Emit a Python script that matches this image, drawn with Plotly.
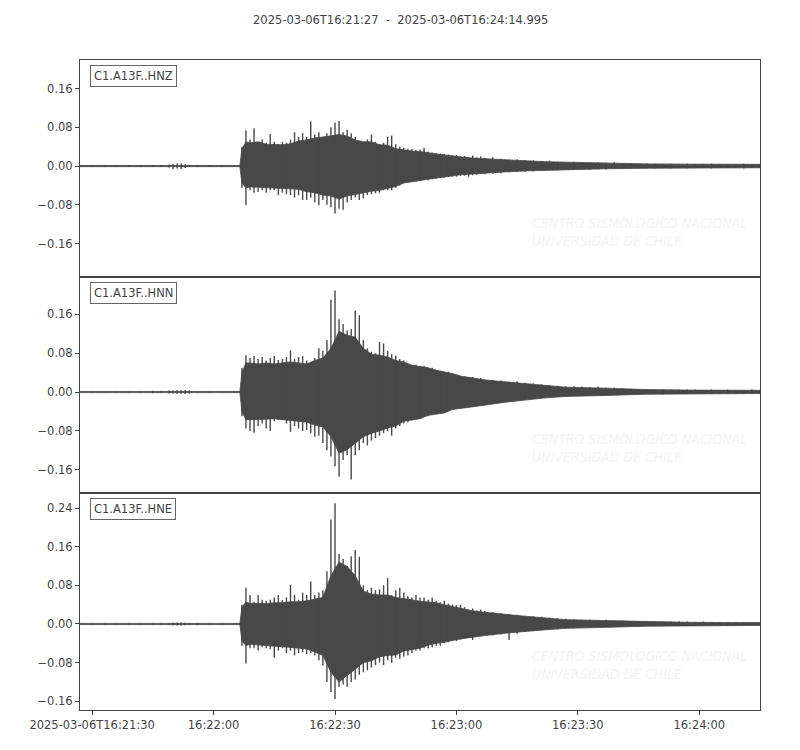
import pandas as pd
import plotly.graph_objects as go
from plotly.subplots import make_subplots

# ---------------- data ----------------
start_time = "2025-03-06 16:21:27"
end_time = "2025-03-06 16:24:14.995"
title_text = "2025-03-06T16:21:27  -  2025-03-06T16:24:14.995"

channels = ["C1.A13F..HNZ", "C1.A13F..HNN", "C1.A13F..HNE"]

# seconds after start time at which the peak (spike) amplitudes were read
t_sec = [0, 3, 6, 9, 12, 15, 18, 20, 22, 23, 24, 25, 26, 27, 29, 32, 35, 38, 39.5,
         40, 41, 42, 43, 44, 45, 46, 47, 48, 49, 50, 51, 52, 53, 54, 55, 56, 57, 58, 59,
         60, 61, 62, 63, 64, 65, 66, 67, 68, 69, 70, 71, 72, 73, 74, 75, 76, 77, 78, 79,
         80, 81, 82, 83, 84, 85, 86, 87, 88, 89, 90, 91, 92, 93, 94, 95, 96, 97, 98, 99, 100,
         102, 104, 106, 108, 110, 112, 114, 116, 118, 120, 122, 124, 126, 128, 130, 132, 134,
         136, 138, 140, 142, 144, 146, 148, 150, 152, 154, 156, 158, 160, 162, 164, 166, 168]

hnz_upper = [0.0015, 0.0018, 0.0015, 0.0018, 0.0015, 0.0018, 0.002, 0.0018, 0.003, 0.005, 0.006, 0.006, 0.004, 0.002, 0.002, 0.0018, 0.0015, 0.0018, 0.002,
             0.04, 0.074, 0.055, 0.078, 0.05, 0.055, 0.048, 0.066, 0.05, 0.045, 0.05, 0.048, 0.055, 0.07, 0.06, 0.068, 0.06, 0.092, 0.065, 0.07,
             0.06, 0.068, 0.08, 0.09, 0.093, 0.07, 0.075, 0.068, 0.06, 0.052, 0.05, 0.055, 0.065, 0.05, 0.045, 0.048, 0.06, 0.063, 0.045, 0.04,
             0.038, 0.036, 0.035, 0.033, 0.034, 0.038, 0.03, 0.028, 0.027, 0.026, 0.025, 0.024, 0.022, 0.023, 0.02, 0.021, 0.019, 0.022, 0.018, 0.02, 0.017,
             0.018, 0.015, 0.013, 0.014, 0.012, 0.012, 0.01, 0.011, 0.009, 0.008, 0.009, 0.008, 0.007, 0.008, 0.007, 0.008, 0.006,
             0.006, 0.005, 0.006, 0.005, 0.005, 0.005, 0.004, 0.005, 0.004, 0.004, 0.005, 0.004, 0.004, 0.004, 0.005, 0.004, 0.004]
hnz_lower = [-0.0015, -0.0018, -0.0015, -0.0018, -0.0015, -0.0018, -0.002, -0.0018, -0.003, -0.006, -0.005, -0.006, -0.004, -0.002, -0.002, -0.0018, -0.0015, -0.0018, -0.002,
             -0.045, -0.081, -0.05, -0.055, -0.053, -0.05, -0.055, -0.05, -0.05, -0.06, -0.055, -0.058, -0.06, -0.065, -0.06, -0.07, -0.07, -0.065, -0.075, -0.081,
             -0.07, -0.08, -0.085, -0.098, -0.088, -0.09, -0.075, -0.07, -0.065, -0.07, -0.067, -0.06, -0.058, -0.056, -0.055, -0.05, -0.05, -0.05, -0.045, -0.04,
             -0.035, -0.033, -0.032, -0.032, -0.03, -0.029, -0.03, -0.027, -0.026, -0.025, -0.024, -0.023, -0.022, -0.022, -0.02, -0.02, -0.022, -0.019, -0.018, -0.016, -0.017,
             -0.016, -0.015, -0.013, -0.012, -0.012, -0.011, -0.01, -0.009, -0.009, -0.008, -0.008, -0.007, -0.008, -0.007, -0.007, -0.006, -0.006,
             -0.005, -0.005, -0.005, -0.005, -0.004, -0.005, -0.004, -0.005, -0.004, -0.004, -0.005, -0.004, -0.004, -0.004, -0.005, -0.004, -0.004]

hnn_upper = [0.0012, 0.0012, 0.0012, 0.0012, 0.0012, 0.0018, 0.0025, 0.002, 0.003, 0.003, 0.004, 0.0035, 0.004, 0.003, 0.0015, 0.0012, 0.0012, 0.0012, 0.0015,
             0.05, 0.076, 0.07, 0.074, 0.068, 0.072, 0.065, 0.07, 0.074, 0.066, 0.068, 0.072, 0.086, 0.068, 0.072, 0.074, 0.065, 0.058, 0.07, 0.09,
             0.085, 0.107, 0.19, 0.209, 0.15, 0.14, 0.127, 0.13, 0.168, 0.158, 0.107, 0.09, 0.083, 0.08, 0.103, 0.1, 0.085, 0.078, 0.075, 0.068,
             0.065, 0.058, 0.055, 0.056, 0.052, 0.054, 0.05, 0.05, 0.045, 0.04, 0.038, 0.042, 0.038, 0.036, 0.033, 0.031, 0.03, 0.031, 0.028, 0.029, 0.026,
             0.025, 0.024, 0.021, 0.022, 0.019, 0.018, 0.016, 0.014, 0.013, 0.012, 0.012, 0.011, 0.01, 0.011, 0.009, 0.009, 0.008,
             0.007, 0.006, 0.006, 0.005, 0.006, 0.005, 0.005, 0.005, 0.005, 0.004, 0.005, 0.004, 0.005, 0.004, 0.004, 0.005, 0.004]
hnn_lower = [-0.0012, -0.0012, -0.0012, -0.0012, -0.0012, -0.0018, -0.0025, -0.002, -0.003, -0.003, -0.004, -0.0035, -0.004, -0.003, -0.0015, -0.0012, -0.0012, -0.0012, -0.0015,
             -0.05, -0.075, -0.08, -0.084, -0.07, -0.065, -0.075, -0.08, -0.06, -0.058, -0.057, -0.065, -0.082, -0.07, -0.075, -0.08, -0.078, -0.085, -0.092, -0.09,
             -0.105, -0.12, -0.133, -0.153, -0.174, -0.14, -0.13, -0.18, -0.13, -0.12, -0.105, -0.11, -0.1, -0.095, -0.09, -0.085, -0.08, -0.09, -0.075, -0.07,
             -0.065, -0.062, -0.058, -0.055, -0.05, -0.05, -0.05, -0.047, -0.045, -0.042, -0.04, -0.038, -0.035, -0.033, -0.03, -0.03, -0.029, -0.03, -0.027, -0.026, -0.025,
             -0.022, -0.02, -0.018, -0.016, -0.014, -0.013, -0.012, -0.01, -0.009, -0.009, -0.008, -0.008, -0.007, -0.007, -0.006, -0.006, -0.005,
             -0.005, -0.005, -0.004, -0.004, -0.005, -0.004, -0.004, -0.004, -0.004, -0.004, -0.004, -0.004, -0.004, -0.004, -0.004, -0.004, -0.004]

hne_upper = [0.0015, 0.0015, 0.0015, 0.0015, 0.0015, 0.0015, 0.0015, 0.0015, 0.002, 0.003, 0.003, 0.003, 0.0025, 0.002, 0.002, 0.0015, 0.0015, 0.0015, 0.002,
             0.04, 0.075, 0.06, 0.046, 0.06, 0.05, 0.048, 0.05, 0.055, 0.06, 0.05, 0.055, 0.081, 0.06, 0.05, 0.065, 0.06, 0.088, 0.06, 0.065,
             0.07, 0.109, 0.216, 0.25, 0.145, 0.135, 0.12, 0.14, 0.153, 0.139, 0.08, 0.07, 0.075, 0.07, 0.072, 0.08, 0.095, 0.06, 0.07, 0.075,
             0.065, 0.058, 0.055, 0.06, 0.055, 0.055, 0.05, 0.055, 0.048, 0.045, 0.048, 0.042, 0.04, 0.039, 0.04, 0.035, 0.03, 0.032, 0.028, 0.03, 0.027,
             0.025, 0.022, 0.02, 0.019, 0.017, 0.016, 0.015, 0.013, 0.012, 0.011, 0.01, 0.009, 0.009, 0.008, 0.009, 0.007, 0.007,
             0.006, 0.006, 0.006, 0.005, 0.005, 0.005, 0.005, 0.005, 0.004, 0.005, 0.004, 0.004, 0.004, 0.004, 0.004, 0.003, 0.003]
hne_lower = [-0.0015, -0.0015, -0.0015, -0.0015, -0.0015, -0.0015, -0.0015, -0.0015, -0.002, -0.003, -0.003, -0.003, -0.0025, -0.002, -0.002, -0.0015, -0.0015, -0.0015, -0.002,
             -0.045, -0.082, -0.05, -0.05, -0.055, -0.048, -0.05, -0.052, -0.07, -0.055, -0.05, -0.06, -0.055, -0.065, -0.06, -0.058, -0.062, -0.06, -0.065, -0.075,
             -0.086, -0.12, -0.141, -0.155, -0.13, -0.125, -0.13, -0.12, -0.115, -0.105, -0.1, -0.096, -0.09, -0.085, -0.08, -0.085, -0.075, -0.08, -0.07, -0.072,
             -0.068, -0.065, -0.06, -0.055, -0.055, -0.05, -0.05, -0.048, -0.045, -0.045, -0.04, -0.038, -0.035, -0.035, -0.032, -0.03, -0.028, -0.033, -0.025, -0.024, -0.022,
             -0.024, -0.022, -0.033, -0.02, -0.016, -0.014, -0.013, -0.012, -0.011, -0.01, -0.009, -0.008, -0.008, -0.007, -0.007, -0.006, -0.006,
             -0.005, -0.005, -0.005, -0.004, -0.004, -0.004, -0.004, -0.004, -0.004, -0.004, -0.004, -0.003, -0.004, -0.003, -0.003, -0.003, -0.003]

# seconds after start time at which the dense (solid) body level of each trace was read
t_body = [0, 39.5, 40, 41, 42, 44, 46, 48, 50, 52, 54, 56, 58, 60, 62, 64, 66, 68, 70,
          72, 74, 76, 78, 80, 82, 84, 86, 88, 90, 92, 94, 96, 98, 100,
          105, 110, 115, 120, 130, 140, 150, 160, 168]

hnz_body_upper = [0.0012, 0.0012, 0.035, 0.05, 0.048, 0.05, 0.045, 0.045, 0.044, 0.046, 0.052, 0.054, 0.058, 0.06, 0.062,
                  0.065, 0.062, 0.054, 0.05, 0.05, 0.044, 0.043, 0.036, 0.033, 0.031, 0.03, 0.027, 0.025, 0.023, 0.021,
                  0.018, 0.017, 0.016, 0.015, 0.013, 0.011, 0.009, 0.008, 0.006, 0.0045, 0.004, 0.0035, 0.0035]
hnz_body_lower = [-0.0012, -0.0012, -0.035, -0.045, -0.043, -0.043, -0.044, -0.045, -0.046, -0.047, -0.048, -0.053, -0.055, -0.06, -0.062,
                  -0.068, -0.062, -0.058, -0.055, -0.052, -0.05, -0.046, -0.042, -0.035, -0.032, -0.03, -0.027, -0.025, -0.023, -0.02,
                  -0.018, -0.017, -0.015, -0.014, -0.012, -0.01, -0.008, -0.007, -0.0055, -0.0045, -0.004, -0.0035, -0.0035]
hnn_body_upper = [0.0012, 0.0012, 0.04, 0.06, 0.06, 0.058, 0.06, 0.058, 0.06, 0.062, 0.06, 0.058, 0.065, 0.07, 0.09,
                  0.125, 0.117, 0.113, 0.09, 0.078, 0.076, 0.072, 0.065, 0.062, 0.055, 0.052, 0.05, 0.045, 0.042, 0.038,
                  0.033, 0.03, 0.027, 0.025, 0.021, 0.017, 0.013, 0.01, 0.008, 0.005, 0.004, 0.0035, 0.0035]
hnn_body_lower = [-0.0012, -0.0012, -0.04, -0.057, -0.057, -0.057, -0.056, -0.055, -0.056, -0.058, -0.06, -0.062, -0.068, -0.072, -0.092,
                  -0.126, -0.119, -0.105, -0.092, -0.085, -0.08, -0.074, -0.07, -0.06, -0.057, -0.055, -0.048, -0.046, -0.043, -0.036,
                  -0.034, -0.032, -0.029, -0.027, -0.021, -0.016, -0.012, -0.009, -0.007, -0.0045, -0.0035, -0.003, -0.003]
hne_body_upper = [0.0012, 0.0012, 0.035, 0.045, 0.043, 0.042, 0.042, 0.044, 0.044, 0.046, 0.046, 0.048, 0.052, 0.055, 0.1,
                  0.128, 0.119, 0.1, 0.068, 0.062, 0.06, 0.06, 0.055, 0.053, 0.05, 0.047, 0.046, 0.044, 0.04, 0.036,
                  0.033, 0.029, 0.026, 0.024, 0.02, 0.016, 0.012, 0.009, 0.007, 0.0045, 0.0035, 0.003, 0.003]
hne_body_lower = [-0.0012, -0.0012, -0.035, -0.045, -0.042, -0.044, -0.045, -0.046, -0.047, -0.048, -0.05, -0.052, -0.058, -0.065, -0.1,
                  -0.12, -0.107, -0.093, -0.08, -0.076, -0.068, -0.065, -0.064, -0.056, -0.053, -0.05, -0.044, -0.04, -0.038, -0.034,
                  -0.031, -0.029, -0.026, -0.024, -0.019, -0.015, -0.012, -0.009, -0.007, -0.0045, -0.0035, -0.003, -0.003]

x_tick_times = ["2025-03-06 16:21:30", "2025-03-06 16:22:00", "2025-03-06 16:22:30",
                "2025-03-06 16:23:00", "2025-03-06 16:23:30", "2025-03-06 16:24:00"]
x_tick_labels = ["2025-03-06T16:21:30", "16:22:00", "16:22:30", "16:23:00", "16:23:30", "16:24:00"]

y_ticks_12 = [-0.16, -0.08, 0.0, 0.08, 0.16]
y_ticks_3 = [-0.16, -0.08, 0.0, 0.08, 0.16, 0.24]

y_ranges = [[-0.229, 0.219], [-0.208, 0.237], [-0.178, 0.271]]

# ---------------- figure ----------------
t0 = pd.Timestamp(start_time)
spike_times = list(t0 + pd.to_timedelta(t_sec, unit="s"))
body_times = list(t0 + pd.to_timedelta(t_body, unit="s"))

uppers = [hnz_upper, hnn_upper, hne_upper]
lowers = [hnz_lower, hnn_lower, hne_lower]
body_ups = [hnz_body_upper, hnn_body_upper, hne_body_upper]
body_los = [hnz_body_lower, hnn_body_lower, hne_body_lower]
yticks = [y_ticks_12, y_ticks_12, y_ticks_3]

TRACE = "#484848"
AX = "#444444"
FONT = dict(family="DejaVu Sans", size=11.5, color="#444444")


def fmt(v):
    s = f"{abs(v):.2f}"
    return ("\u2212" + s) if v < 0 else s


fig = make_subplots(rows=3, cols=1, shared_xaxes=True, vertical_spacing=0)

for i in range(3):
    # dense body of the trace
    fig.add_trace(go.Scatter(x=body_times + body_times[::-1],
                             y=body_ups[i] + body_los[i][::-1],
                             mode="lines", fill="toself", fillcolor=TRACE,
                             line=dict(color=TRACE, width=0.8),
                             hoverinfo="skip", showlegend=False), row=i + 1, col=1)
    # peak excursions as vertical strokes
    sx, sy = [], []
    for tt, up, lo in zip(spike_times, uppers[i], lowers[i]):
        sx += [tt, tt, None]
        sy += [lo, up, None]
    fig.add_trace(go.Scatter(x=sx, y=sy, mode="lines",
                             line=dict(color=TRACE, width=1.4),
                             hoverinfo="skip", showlegend=False), row=i + 1, col=1)

domains = [[0.6662, 1.0], [0.3338, 0.6662], [0.0, 0.3338]]
for i in range(3):
    yname = "yaxis" if i == 0 else f"yaxis{i + 1}"
    xname = "xaxis" if i == 0 else f"xaxis{i + 1}"
    fig.layout[yname].update(
        domain=domains[i], range=y_ranges[i], showgrid=False, zeroline=False,
        showline=True, mirror=True, linecolor=AX, linewidth=1,
        ticks="outside", ticklen=4, tickcolor=AX, tickwidth=1,
        tickvals=yticks[i], ticktext=[fmt(v) for v in yticks[i]], tickfont=FONT)
    fig.layout[xname].update(
        range=[start_time, end_time], showgrid=False, zeroline=False,
        showline=True, mirror=True, linecolor=AX, linewidth=1,
        tickvals=x_tick_times, ticktext=x_tick_labels, tickfont=FONT,
        ticks="outside" if i == 2 else "", ticklen=4, tickcolor=AX,
        showticklabels=(i == 2))
    yref = "y" if i == 0 else f"y{i + 1}"
    xref = "x" if i == 0 else f"x{i + 1}"
    fig.add_annotation(text=channels[i], xref=f"{xref} domain", yref=f"{yref} domain",
                       x=0.015, y=0.979, xanchor="left", yanchor="top", showarrow=False,
                       font=FONT, bgcolor="white", bordercolor="#666666",
                       borderwidth=1, borderpad=3)
    # faint watermark text
    fig.add_annotation(text="<i>CENTRO SISMOLÓGICO NACIONAL<br>UNIVERSIDAD DE CHILE</i>",
                       xref=f"{xref} domain", yref=f"{yref} domain",
                       x=0.662, y=0.21, xanchor="left", yanchor="middle", align="left",
                       showarrow=False,
                       font=dict(family="DejaVu Sans Condensed, DejaVu Sans", size=14,
                                 color="#f3f3f3"))

fig.add_annotation(text=title_text.replace(" ", "\u00a0"), xref="paper", yref="paper",
                   x=0.4706, y=1.0615, xanchor="center", yanchor="middle",
                   showarrow=False, font=FONT)

fig.update_layout(width=800, height=750, margin=dict(l=72, r=48, t=52, b=48),
                  plot_bgcolor="white", paper_bgcolor="white", font=FONT,
                  showlegend=False)

fig.write_html("out.html")
